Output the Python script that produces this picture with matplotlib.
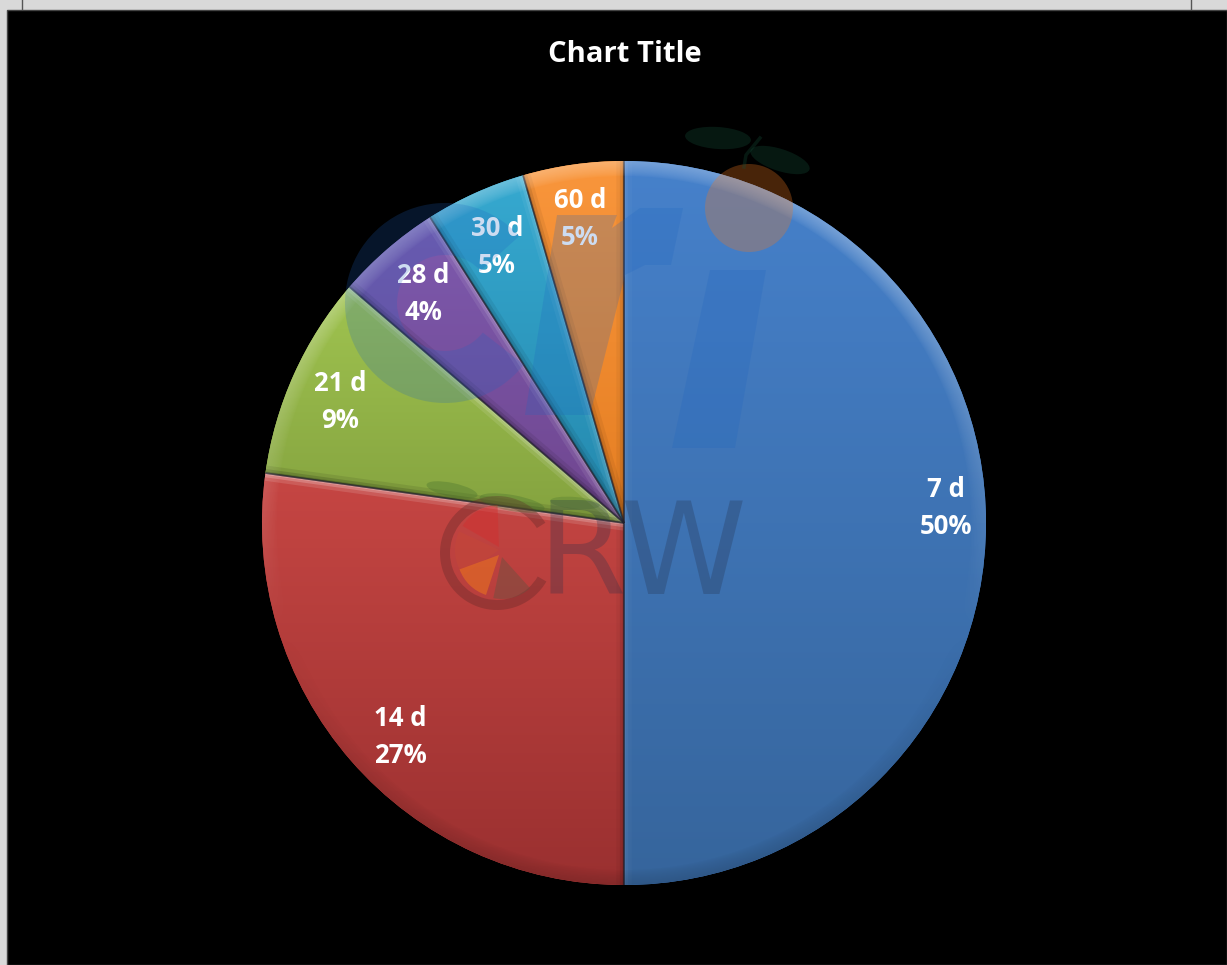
import numpy as np
import matplotlib
matplotlib.use("Agg")
import matplotlib.pyplot as plt
from matplotlib.patches import Circle, Ellipse, Polygon, Rectangle, Wedge
from matplotlib.colors import to_rgb

categories = ["7 d", "14 d", "21 d", "28 d", "30 d", "60 d"]
slice_sizes = [50.0, 27.2, 9.1, 4.7, 4.5, 4.5]
percent_labels = ["50%", "27%", "9%", "4%", "5%", "5%"]
title = "Chart Title"

top_colors = ["#4681cb", "#c64643", "#a0c450", "#7d5aae", "#36a9d0", "#f9963c"]
bottom_colors = ["#36659c", "#9a3030", "#84a23f", "#70468f", "#2488ad", "#e57e22"]
label_pos = [(946, 508), (400, 737), (340, 402), (423, 294), (497, 247), (580, 219)]

W, H = 1227, 965
CX, CY, R = 624.0, H - 523.0, 362.0

fig = plt.figure(figsize=(W / 100, H / 100), dpi=100, facecolor="#d9d9d9")
ax = fig.add_axes([0, 0, 1, 1])
ax.set_facecolor("#d9d9d9")
ax.add_patch(Rectangle((7, 0), W - 7, H - 9.5, fc="black", ec="#444444", lw=1, zorder=0))
ax.plot([22, 22], [H - 9, H], color="#555555", lw=1, zorder=0)
ax.plot([1191, 1191], [H - 9, H], color="#555555", lw=1, zorder=0)

wedges, _ = ax.pie(slice_sizes, startangle=90, counterclock=False, center=(CX, CY), radius=R,
                   colors=top_colors, normalize=True, frame=False,
                   wedgeprops=dict(edgecolor="none"))

for w, c0, c1 in zip(wedges, top_colors, bottom_colors):
    w.set_zorder(1)
    verts = w.get_patch_transform().transform(w.get_path().vertices)
    y0, y1 = verts[:, 1].min(), verts[:, 1].max()
    t = np.linspace(0, 1, 256)[:, None, None]
    img = (1 - t) * np.array(to_rgb(c0))[None, None, :] + t * np.array(to_rgb(c1))[None, None, :]
    im = ax.imshow(img, extent=(CX - R, CX + R, y0, y1), origin="upper", aspect="auto", zorder=1.1)
    im.set_clip_path(w)
    # soft bevel on the two radial edges, lit from above
    for theta, sign in ((w.theta1, 1), (w.theta2, -1)):
        a = np.deg2rad(theta)
        ex, ey = np.cos(a), np.sin(a)
        inward_y = sign * ex
        lit = inward_y < 0
        strength = abs(inward_y)
        xs = [w.center[0], w.center[0] + w.r * ex]
        ys = [w.center[1], w.center[1] + w.r * ey]
        for lw, alpha in ((11, 0.10), (6, 0.16), (2.5, 0.2)):
            ln, = ax.plot(xs, ys, color="white" if lit else "black", lw=lw,
                          alpha=alpha * (0.25 + strength) if lit else alpha * (0.45 + 0.4 * strength),
                          zorder=1.3, solid_capstyle="butt")
            ln.set_clip_path(w)
        ax.plot(xs, ys, color="#20202c", lw=1.2, alpha=0.5, zorder=1.5, solid_capstyle="butt")

# rim shading: light from above, dark below
ext = (CX - R, CX + R, CY - R, CY + R)
yy, xx = np.mgrid[CY + R:CY - R:724j, CX - R:CX + R:724j]
rr = np.hypot(xx - CX, yy - CY)
up = (yy - CY) / R
rim = np.clip((rr - (R - 15)) / 15, 0, 1) ** 0.7
rgba = np.zeros(rr.shape + (4,))
rgba[..., :3] = np.where(up[..., None] > -0.3, 1.0, 0.0)
rgba[..., 3] = rim * (0.26 * np.clip(up + 0.3, 0, 1) + 0.2 * np.clip(-up - 0.3, 0, 1))
ov = ax.imshow(rgba, extent=ext, origin="upper", aspect="auto", zorder=1.6)
ov.set_clip_path(Circle((CX, CY), R, transform=ax.transData))

ax.set_xlim(0, W)
ax.set_ylim(0, H)
ax.set_aspect("equal")
ax.axis("off")

def Y(v):
    return H - v

for (x, y), cat, pct in zip(label_pos, categories, percent_labels):
    ax.text(x, Y(y), f"{cat}\n{pct}", color="white", fontsize=18.5, fontweight="bold", family="Open Sans",
            ha="center", va="center", linespacing=1.46, zorder=3)
ax.text(625, Y(54), title, color="white", fontsize=21, fontweight="bold", family="Open Sans",
        ha="center", va="center", zorder=3)

# watermark, laid over the labels as in the reference
wm_blue = "#1e64c0"
wm_alpha = 0.22
Z = 4
ax.add_patch(Wedge((445, Y(303)), 100, 42, 322, width=52, fc=wm_blue, ec="none", alpha=wm_alpha, zorder=Z))
r_path = [(525, 415), (590, 415), (625, 275), (645, 265), (671, 265), (683, 208), (640, 208),
          (612, 228), (617, 215), (557, 215)]
ax.add_patch(Polygon([(x, Y(y)) for x, y in r_path], fc=wm_blue, ec="none", alpha=wm_alpha, zorder=Z))
i_path = [(710, 270), (766, 270), (735, 448), (672, 448)]
ax.add_patch(Polygon([(x, Y(y)) for x, y in i_path], fc=wm_blue, ec="none", alpha=wm_alpha, zorder=Z))

ax.add_patch(Circle((749, Y(208)), 44, fc="#f07820", ec="none", alpha=0.3, zorder=Z))
ax.add_patch(Ellipse((718, Y(138)), 66, 22, angle=-4, fc="#14503a", ec="none", alpha=0.3, zorder=Z))
ax.add_patch(Ellipse((780, Y(160)), 62, 22, angle=-18, fc="#14503a", ec="none", alpha=0.3, zorder=Z))
ax.plot([744, 746, 760], [Y(167), Y(155), Y(138)], color="#14503a", alpha=0.3, lw=2.5, zorder=Z)

ax.add_patch(Wedge((497, Y(553)), 57, 32, 330, width=10, fc="#6a2a2a", ec="none", alpha=0.4, zorder=Z))
ax.add_patch(Wedge((499, Y(547)), 42, 92, 150, fc="#d03030", ec="none", alpha=0.5, zorder=Z))
ax.add_patch(Wedge((499, Y(550)), 44, 155, 215, fc="#c84a34", ec="none", alpha=0.35, zorder=Z))
ax.add_patch(Wedge((499, Y(555)), 42, 200, 252, fc="#e87020", ec="none", alpha=0.6, zorder=Z))
ax.add_patch(Wedge((502, Y(557)), 42, 258, 312, fc="#6a5040", ec="none", alpha=0.45, zorder=Z))
ax.add_patch(Ellipse((452, Y(490)), 52, 14, angle=-12, fc="#3f6a2a", ec="none", alpha=0.3, zorder=Z))
ax.add_patch(Ellipse((512, Y(503)), 66, 16, angle=-10, fc="#3f6a2a", ec="none", alpha=0.3, zorder=Z))
ax.add_patch(Ellipse((575, Y(503)), 50, 12, angle=-5, fc="#3f6a2a", ec="none", alpha=0.25, zorder=Z))
ax.text(642, Y(559), "RW", fontsize=92, family="Liberation Sans Narrow", color="#24304a", alpha=0.28,
        ha="center", va="center", zorder=Z)

fig.savefig("out.png", dpi=100, facecolor=fig.get_facecolor())
